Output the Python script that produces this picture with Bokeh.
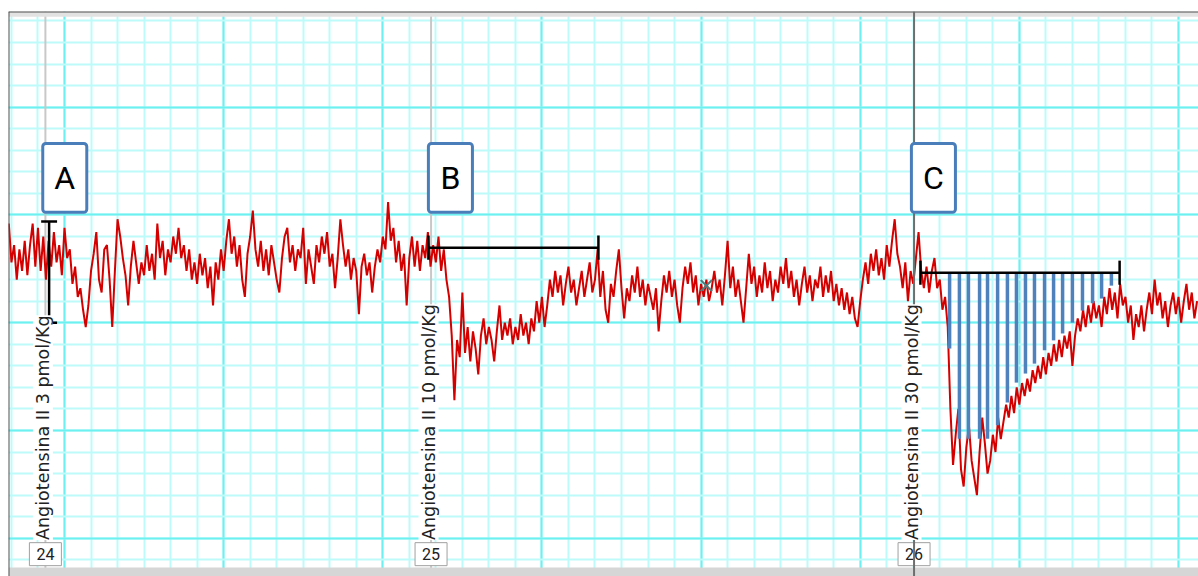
import numpy as np
from bokeh.plotting import figure
from bokeh.models import (Range1d, Grid, SingleIntervalTicker, Span, BoxAnnotation,
                          Label)
from bokeh.embed import file_html
from bokeh.resources import INLINE
from bokeh.core.properties import value

# ---------------- data (time in s, pressure in mmHg) ----------------
t_first = 39  # first sample time (s), one sample per second
pressure = [
    123, 114, 118, 110, 117, 112, 119, 111, 118, 123,
    113, 122, 112, 120, 110, 119, 113, 121, 114, 118,
    111, 122, 115, 117, 109, 113, 106, 108, 103, 99,
    104, 112, 116, 121, 110, 107, 117, 118, 110, 99,
    112, 124, 120, 115, 111, 104, 113, 119, 114, 109,
    114, 111, 118, 112, 116, 110, 123, 115, 119, 111,
    117, 114, 120, 116, 122, 115, 118, 112, 117, 110,
    114, 109, 116, 111, 115, 108, 113, 104, 114, 110,
    117, 112, 119, 124, 116, 120, 113, 118, 110, 106,
    116, 120, 126, 117, 113, 119, 112, 117, 111, 118,
    114, 110, 107, 115, 120, 122, 114, 118, 112, 117,
    115, 122, 109, 117, 113, 109, 118, 114, 120, 116,
    121, 113, 116, 108, 115, 124, 118, 113, 117, 110,
    115, 112, 102, 113, 116, 111, 114, 107, 113, 117,
    114, 120, 117, 128, 119, 122, 114, 119, 112, 116,
    104, 115, 120, 113, 119, 112, 118, 115, 121, 113,
    118, 114, 120, 112, 117, 110, 106, 97, 82, 96,
    92, 107, 93, 99, 91, 98, 94, 88, 97, 101,
    95, 99, 96, 91, 98, 104, 96, 100, 97, 101,
    95, 99, 96, 102, 97, 100, 95, 101, 98, 105,
    100, 106, 99, 104, 110, 106, 112, 107, 111, 104,
    109, 113, 107, 110, 104, 108, 112, 106, 110, 114,
    107, 110, 117, 106, 112, 103, 100, 109, 106, 112,
    117, 108, 101, 108, 105, 111, 107, 113, 106, 110,
    104, 109, 106, 103, 108, 98, 105, 111, 107, 112,
    106, 110, 104, 100, 108, 113, 109, 114, 107, 111,
    104, 109, 106, 110, 105, 108, 112, 107, 110, 104,
    111, 119, 108, 113, 106, 110, 105, 100, 108, 116,
    109, 113, 106, 111, 107, 114, 108, 112, 105, 110,
    107, 113, 109, 115, 108, 112, 106, 110, 104, 109,
    113, 107, 111, 105, 110, 108, 113, 106, 111, 107,
    112, 105, 109, 104, 108, 103, 107, 102, 106, 101,
    99, 105, 110, 114, 109, 116, 112, 117, 111, 115,
    110, 118, 113, 119, 124, 116, 113, 108, 114, 105,
    112, 109, 115, 121, 112, 108, 113, 107, 112, 115,
    108, 110, 103, 106, 99, 80, 67, 74, 80, 66,
    62, 71, 76, 68, 64, 60, 70, 78, 72, 65,
    68, 74, 70, 78, 73, 77, 81, 78, 83, 79,
    85, 81, 86, 83, 87, 84, 89, 86, 90, 87,
    92, 88, 93, 90, 95, 91, 96, 92, 97, 94,
    98, 90, 97, 101, 98, 103, 99, 104, 100, 105,
    101, 104, 99, 106, 102, 108, 103, 107, 101, 109,
    104, 106, 100, 104, 96, 102, 99, 104, 98, 103,
    107, 102, 110, 104, 107, 101, 105, 99, 104, 107,
    102, 106, 100, 105, 109, 103, 107, 101, 105,
]
time = np.arange(t_first, t_first + len(pressure))

# injection events
event_times = [52.8, 198.2, 380.3]
event_numbers = ["24", "25", "26"]
event_letters = ["A", "B", "C"]
event_doses = ["Angiotensina II 3 pmol/Kg",
               "Angiotensina II 10 pmol/Kg",
               "Angiotensina II 30 pmol/Kg"]

# measurement markers
amp_a_time = 54.2
amp_a_top = 123.5
amp_a_bottom = 100.0
dur_b_start, dur_b_end, dur_b_level = 197.2, 261.3, 117.4
dur_c_start, dur_c_end, dur_c_level = 382.7, 457.8, 111.6

# area-under-baseline hatch lines for response C
area_times = [393.7, 397.4, 400.8, 405.0, 408.0, 411.8, 415.5, 418.9, 422.3,
              425.7, 429.5, 432.9, 436.3, 440.0, 443.8, 447.6, 451.0, 454.7]
area_bottoms = [94.0, 73.1, 73.1, 73.1, 73.1, 76.2, 81.5, 86.1, 88.2,
                90.5, 93.6, 95.9, 97.5, 100.0, 102.8, 104.5, 105.6, 108.6]

cursor_time, cursor_pressure = 302.0, 108.6

# ---------------- figure ----------------
X0, X1 = 38.887, 487.54
Y0, Y1 = 41.12, 172.195

p = figure(width=1198, height=576, x_range=Range1d(X0, X1), y_range=Range1d(Y0, Y1),
           x_axis_type=None, y_axis_type=None, toolbar_location=None,
           output_backend="svg", min_border_left=8, min_border_right=0,
           min_border_top=11, min_border_bottom=0, outline_line_color=None,
           background_fill_color="white", border_fill_color="white")

MINOR = "#bdfafa"
MAJOR = "#6cf0f0"
xg = Grid(dimension=0, ticker=SingleIntervalTicker(interval=60, num_minor_ticks=6),
          grid_line_color=MAJOR, grid_line_width=2,
          minor_grid_line_color=MINOR, minor_grid_line_width=2)
yg = Grid(dimension=1, ticker=SingleIntervalTicker(interval=25, num_minor_ticks=5),
          grid_line_color=MAJOR, grid_line_width=2,
          minor_grid_line_color=MINOR, minor_grid_line_width=2)
p.add_layout(xg)
p.add_layout(yg)

# event lines (A, B light; C selected/dark)
for i, et in enumerate(event_times):
    if i < 2:
        p.add_layout(Span(location=et, dimension="height", line_color="#c8c8c8",
                          line_width=2, level="underlay"))

# frame borders
p.add_layout(BoxAnnotation(bottom=171.0, fill_color="#e2e2e2", fill_alpha=1,
                           line_alpha=0))
p.add_layout(BoxAnnotation(top=43.2, fill_color="#d6d6d6", fill_alpha=1,
                           line_alpha=0))
p.add_layout(Span(location=Y1, dimension="width", line_color="#505050", line_width=2))
p.add_layout(Span(location=X0, dimension="height", line_color="#505050", line_width=2))

# tick boxes at the bottom
p.rect(x=event_times, y=[46.3] * 3, width=32, height=23, width_units="screen",
       height_units="screen", fill_color="white", line_color="#a0a0a0", line_width=1)
p.text(x=event_times, y=[46.3] * 3, text=event_numbers, text_align="center",
       text_baseline="middle", text_font=value("Roboto"), text_font_size="16px",
       text_color="#222222")

# pressure trace
p.line(time, pressure, line_color="#d40000", line_width=2)

# area hatch
p.segment(x0=area_times, y0=[dur_c_level] * len(area_times), x1=area_times,
          y1=area_bottoms, line_color="#4f81bd", line_width=3.5)

# measurement bars
cap_t = 3.0
cap_p = 2.8
seg_x0 = [amp_a_time, amp_a_time - cap_t, amp_a_time - cap_t,
          dur_b_start, dur_b_start, dur_b_end,
          dur_c_start, dur_c_start, dur_c_end]
seg_x1 = [amp_a_time, amp_a_time + cap_t, amp_a_time + cap_t,
          dur_b_end, dur_b_start, dur_b_end,
          dur_c_end, dur_c_start, dur_c_end]
seg_y0 = [amp_a_bottom, amp_a_top, amp_a_bottom,
          dur_b_level, dur_b_level - cap_p, dur_b_level - cap_p,
          dur_c_level, dur_c_level - cap_p, dur_c_level - cap_p]
seg_y1 = [amp_a_top, amp_a_top, amp_a_bottom,
          dur_b_level, dur_b_level + cap_p, dur_b_level + cap_p,
          dur_c_level, dur_c_level + cap_p, dur_c_level + cap_p]
p.segment(x0=seg_x0, y0=seg_y0, x1=seg_x1, y1=seg_y1, line_color="black",
          line_width=2.5)

# cursor mark
p.scatter(x=[cursor_time], y=[cursor_pressure], marker="x", size=16,
          line_color="#4d7f7f", line_width=2)

# selected event line C
p.add_layout(Span(location=event_times[2], dimension="height", line_color="#6e6e6e",
                  line_width=2))

# letter boxes
for et, letter in zip(event_times, event_letters):
    p.add_layout(BoxAnnotation(left=et - 1.0, right=et + 15.6, top=141.6, bottom=125.6,
                               fill_color="white", fill_alpha=1, line_color="#4a7ebb",
                               line_alpha=1, line_width=3, border_radius=3))
    p.add_layout(Label(x=et + 7.3, y=133.6, text=letter, text_align="center",
                       text_baseline="middle", text_font="Roboto",
                       text_font_size="32px", text_color="black"))

# rotated dose labels
for et, dose in zip(event_times, event_doses):
    p.add_layout(Label(x=et, y=49.6, x_offset=-2.5, text=dose, angle=90,
                       angle_units="deg", text_align="left",
                       text_baseline="alphabetic", text_font="DejaVu Sans",
                       text_font_size="17.5px", text_color="#222222",
                       background_fill_color="white", background_fill_alpha=1))

open("out.html", "w").write(file_html(p, INLINE))
